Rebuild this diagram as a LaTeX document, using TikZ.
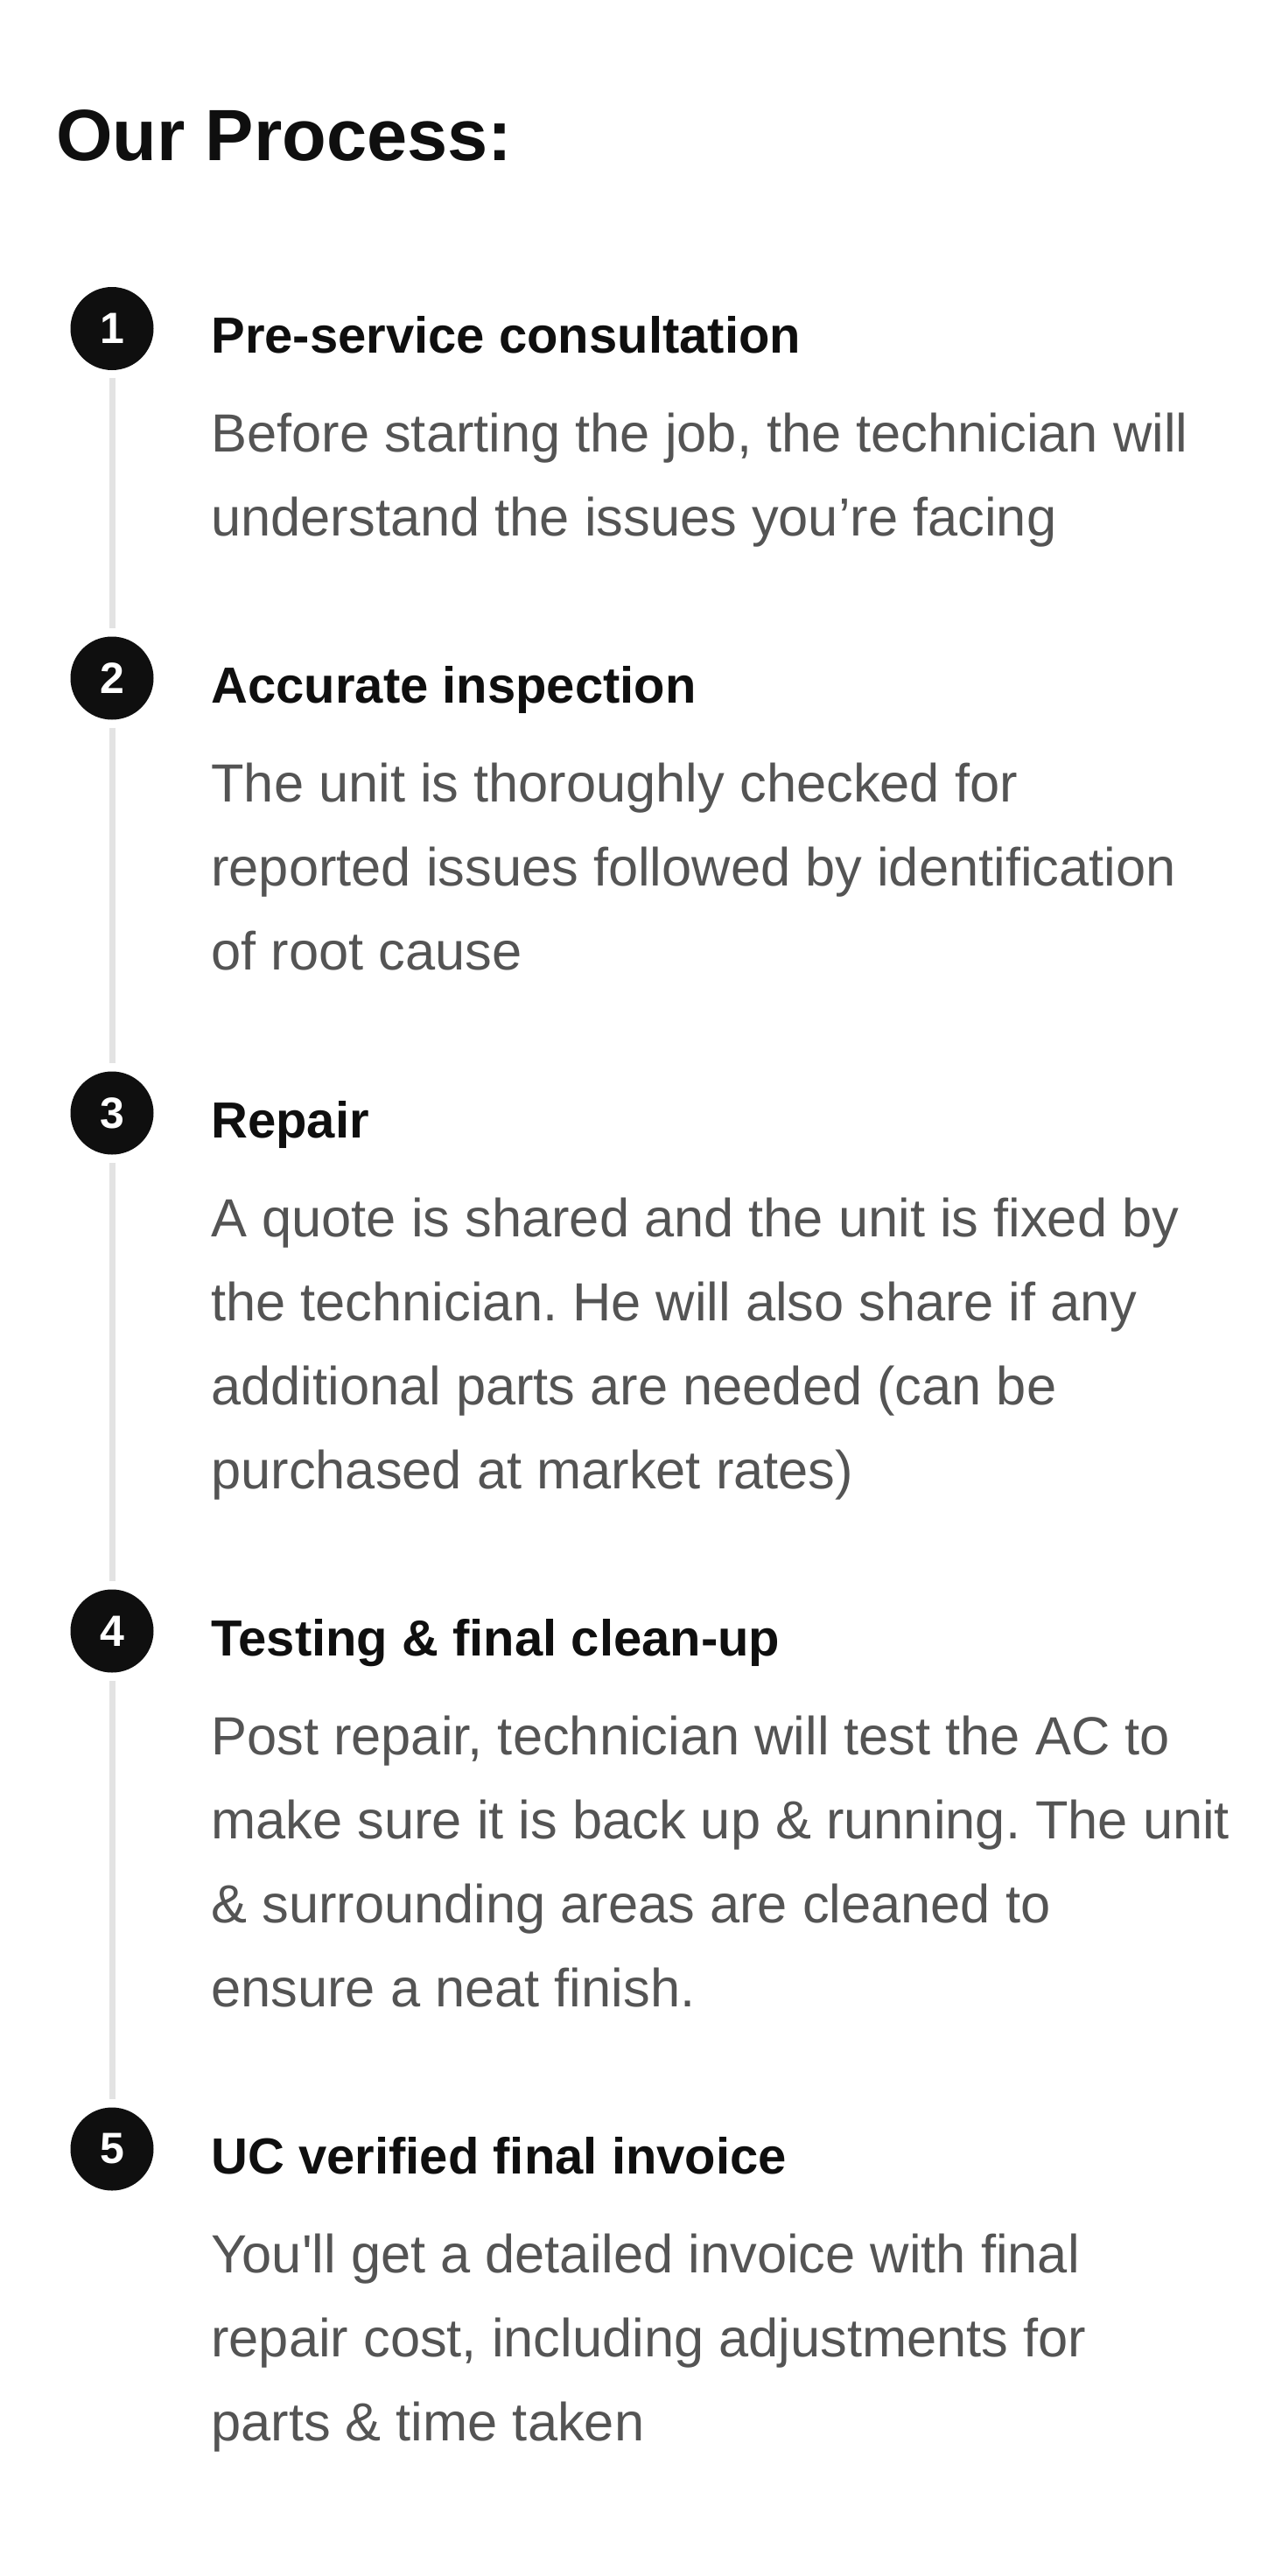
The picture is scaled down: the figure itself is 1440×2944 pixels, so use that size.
\documentclass[tikz,border=0pt]{standalone}
\usepackage{fontspec}
\usepackage{tikz}
\usetikzlibrary{positioning}
\newfontfamily\uifont{Liberation Sans}
\definecolor{inkblack}{HTML}{0F0F0F}
\definecolor{bodygrey}{HTML}{545454}
\definecolor{trackgrey}{HTML}{E3E3E3}
\frenchspacing

\begin{document}
\begin{tikzpicture}
  [x=0.5pt,y=-0.5pt,
   num node/.style={circle,fill=inkblack,text=white,minimum size=47.5pt,inner sep=0pt,font=\uifont\fontsize{25}{28}\selectfont\bfseries},
   step title/.style={anchor=base west,inner sep=0pt,text=inkblack,font=\uifont\fontsize{29}{34}\selectfont\bfseries},
   step text/.style={anchor=base west,inner sep=0pt,align=left,text=bodygrey,font=\uifont\fontsize{30.7}{48}\selectfont},
   track/.style={draw=trackgrey,line width=3.5pt,shorten >=4.5pt,shorten <=4.5pt}]
  \useasboundingbox (0,0) rectangle (1440,2944);

\node[anchor=base west,inner sep=0pt,text=inkblack,font=\uifont\fontsize{41.5}{48}\selectfont\bfseries] (head) at (64,184) {Our Process:};

\node[num node] (s1) at (128,375.5) {1};
\node[num node] (s2) at (128,775) {2};
\node[num node] (s3) at (128,1272) {3};
\node[num node] (s4) at (128,1864) {4};
\node[num node] (s5) at (128,2456) {5};

\node[step title] (t1) at (241,403) {Pre-service consultation};
\node[step title] (t2) at (241,803) {Accurate inspection};
\node[step title] (t3) at (241,1300) {Repair};
\node[step title] (t4) at (241,1892) {Testing \& final clean-up};
\node[step title] (t5) at (241,2484) {UC verified final invoice};

% body texts sit on the baseline of their last line
\node[step text] (b1) at (241,612) {Before starting the job, the technician will\\understand the issues you’re facing};
\node[step text] (b2) at (241,1108) {The unit is thoroughly checked for\\reported issues followed by identification\\of root cause};
\node[step text] (b3) at (241,1701) {A quote is shared and the unit is fixed by\\the technician. He will also share if any\\additional parts are needed (can be\\purchased at market rates)};
\node[step text] (b4) at (241,2293) {Post repair, technician will test the AC to\\make sure it is back up \& running. The unit\\\& surrounding areas are cleaned to\\ensure a neat finish.};
\node[step text] (b5) at (241,2789) {You'll get a detailed invoice with final\\repair cost, including adjustments for\\parts \& time taken};

  \draw[track] (s1) -- (s2);
  \draw[track] (s2) -- (s3);
  \draw[track] (s3) -- (s4);
  \draw[track] (s4) -- (s5);

\end{tikzpicture}
\end{document}
